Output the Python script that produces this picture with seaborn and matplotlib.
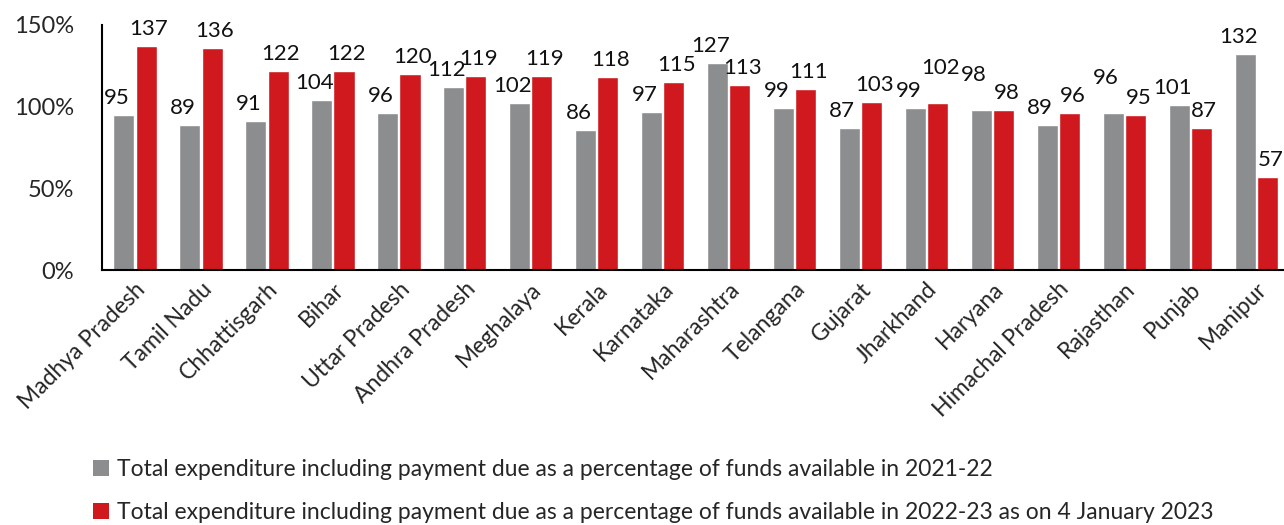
import seaborn as sns
import matplotlib.pyplot as plt
import pandas as pd
from matplotlib.patches import Patch

states = ["Madhya Pradesh", "Tamil Nadu", "Chhattisgarh", "Bihar", "Uttar Pradesh",
          "Andhra Pradesh", "Meghalaya", "Kerala", "Karnataka", "Maharashtra",
          "Telangana", "Gujarat", "Jharkhand", "Haryana", "Himachal Pradesh",
          "Rajasthan", "Punjab", "Manipur"]
pct_2122 = [95, 89, 91, 104, 96, 112, 102, 86, 97, 127, 99, 87, 99, 98, 89, 96, 101, 132]
pct_2223 = [137, 136, 122, 122, 120, 119, 119, 118, 115, 113, 111, 103, 102, 98, 96, 95, 87, 57]
series = ["Total expenditure including payment due as a percentage of funds available in 2021-22",
          "Total expenditure including payment due as a percentage of funds available in 2022-23 as on 4 January 2023"]
colors = ["#8C8D8F", "#D0191F"]

df = pd.DataFrame({
    "state": states * 2,
    "value": pct_2122 + pct_2223,
    "series": [series[0]] * len(states) + [series[1]] * len(states),
})

sns.set_style("white")
plt.rcParams['font.family'] = ['Lato', 'DejaVu Sans']

fig = plt.figure(figsize=(12.84, 5.25), dpi=100)
ax = fig.add_axes([0.0794, 0.4857, 0.9206, 0.4667])

sns.barplot(data=df, x="state", y="value", hue="series", palette=colors,
            width=0.68, gap=0.06, ax=ax, legend=False, saturation=1)

# value labels: grey nudged left, red nudged right; lift the taller one when the two are close
for i, (g, r) in enumerate(zip(pct_2122, pct_2223)):
    close = abs(g - r) <= 4
    lift_g = 13 if close and g >= r else 0
    lift_r = 13 if close and r > g else 0
    ax.annotate(str(g), (i - 0.17, g), xytext=(-5, 5 + lift_g), textcoords="offset points",
                ha="center", va="bottom", fontsize=16, color="#111111")
    ax.annotate(str(r), (i + 0.17, r), xytext=(2, 5 + lift_r), textcoords="offset points",
                ha="center", va="bottom", fontsize=16, color="#111111")

ax.set_ylim(0, 150)
ax.set_xlim(-0.5, 17.42)
ax.set_yticks([0, 50, 100, 150])
ax.set_yticklabels(["0%", "50%", "100%", "150%"], fontsize=17)
ax.tick_params(axis="y", length=0, pad=20)
ax.set_xticks(range(len(states)))
ax.set_xticklabels(states, rotation=45, ha="right", rotation_mode="anchor", fontsize=16.5)
ax.tick_params(axis="x", length=0, pad=6)
ax.set_xlabel("")
ax.set_ylabel("")

for s in ["top", "right"]:
    ax.spines[s].set_visible(False)
for s in ["left", "bottom"]:
    ax.spines[s].set_color("black")
    ax.spines[s].set_linewidth(1.5)

handles = [Patch(facecolor=c, edgecolor="none") for c in colors]
fig.legend(handles, series, loc="lower left", bbox_to_anchor=(0.056, -0.035),
           frameon=False, fontsize=16.5, handlelength=0.7, handleheight=0.7,
           handletextpad=0.35, labelspacing=0.95)

fig.savefig("out.png", dpi=100)
